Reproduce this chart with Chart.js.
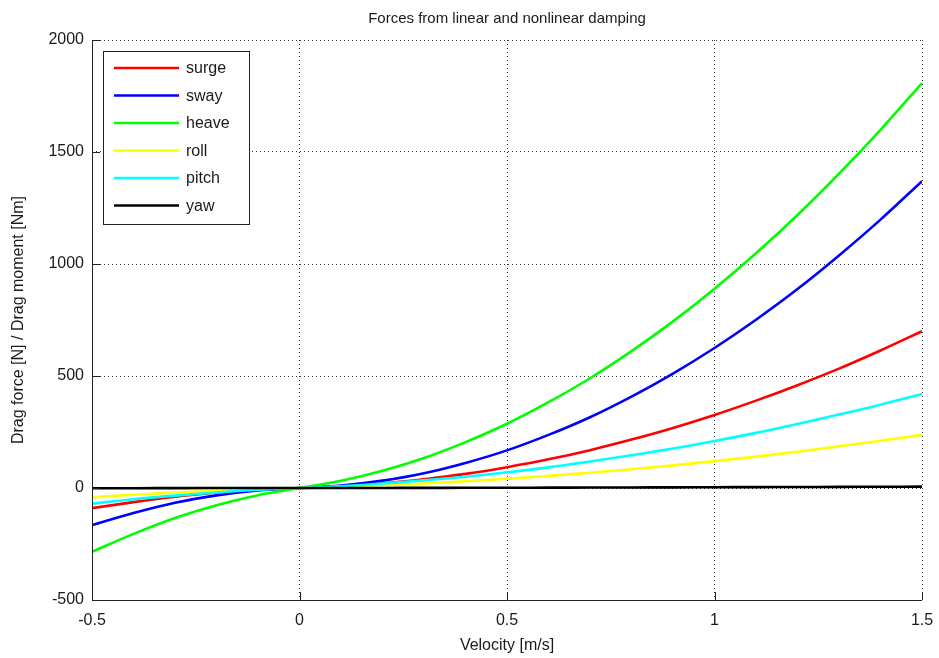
<!DOCTYPE html>
<html>
<head>
<meta charset="utf-8">
<script src="https://cdn.jsdelivr.net/npm/chart.js@4"></script>
<style>
  html, body { margin: 0; padding: 0; background: #fff; }
  #wrap { width: 939px; height: 658px; }
</style>
</head>
<body>
<div id="wrap"><canvas id="c" width="939" height="658"></canvas></div>
<script>
// ---- data ----
const velocity = [-0.5,-0.4,-0.3,-0.2,-0.1,0,0.1,0.2,0.3,0.4,0.5,0.6,0.7,0.8,0.9,1.0,1.1,1.2,1.3,1.4,1.5];
const surge = [-90,-63,-39,-20,-7,0,7,20,39,63,93,128,169,216,268,326,390,459,533,614,700];
const sway  = [-166,-112,-66,-33,-11,0,11,33,66,112,168,237,316,408,511,625,751,888,1038,1198,1370];
const heave = [-285,-205,-134,-77,-32,0,32,77,134,205,287,383,490,611,744,890,1048,1219,1403,1599,1808];
const roll  = [-41,-30,-20,-12,-5,0,5,12,20,30,41,54,68,84,101,120,140,162,186,211,237];
const pitch = [-70,-50,-34,-20,-8,0,8,20,34,50,70,92,118,146,176,210,246,286,328,372,420];
const yaw   = [-1,-1,-0.5,-0.3,-0.1,0,0.1,0.3,0.5,0.8,1,1.5,2,2.5,3,3.5,4,4.5,5,5.5,6];
const seriesNames = ['surge','sway','heave','roll','pitch','yaw'];
const seriesColors = ['#ff0000','#0000ff','#00ff00','#ffff00','#00ffff','#000000'];
const xTicks = [-0.5, 0, 0.5, 1, 1.5];
const yTicks = [-500, 0, 500, 1000, 1500, 2000];
const titleText = 'Forces from linear and nonlinear damping';
const xLabel = 'Velocity [m/s]';
const yLabel = 'Drag force [N] / Drag moment [Nm]';

const seriesValues = [surge, sway, heave, roll, pitch, yaw];
const datasets = seriesNames.map((n, i) => ({
  label: n,
  data: velocity.map((v, k) => ({x: v, y: seriesValues[i][k]})),
  borderColor: seriesColors[i],
  backgroundColor: seriesColors[i],
  borderWidth: 2.6,
  pointRadius: 0,
  cubicInterpolationMode: 'monotone',
  order: seriesNames.length - i
}));

const FONT = '"Liberation Sans", Arial, sans-serif';
const TXT = '#1a1a1a';

const decor = {
  id: 'decor',
  afterDraw(chart) {
    const ctx = chart.ctx;
    const a = chart.chartArea;
    const xs = chart.scales.x, ys = chart.scales.y;
    ctx.save();
    // solid left and bottom axis lines, inward tick marks
    ctx.strokeStyle = '#222';
    ctx.lineWidth = 1;
    ctx.beginPath();
    ctx.moveTo(a.left + 0.5, a.top); ctx.lineTo(a.left + 0.5, a.bottom + 0.5);
    ctx.lineTo(a.right, a.bottom + 0.5);
    xTicks.forEach(t => {
      const px = Math.round(xs.getPixelForValue(t)) + 0.5;
      ctx.moveTo(px, a.bottom); ctx.lineTo(px, a.bottom - 8);
    });
    yTicks.forEach(t => {
      const py = Math.round(ys.getPixelForValue(t)) + 0.5;
      ctx.moveTo(a.left, py); ctx.lineTo(a.left + 8, py);
    });
    ctx.stroke();
    // title
    ctx.fillStyle = TXT;
    ctx.font = '15px ' + FONT;
    ctx.textAlign = 'center';
    ctx.textBaseline = 'middle';
    ctx.fillText(titleText, (a.left + a.right) / 2, 19);
    // x label
    ctx.font = '16px ' + FONT;
    ctx.fillText(xLabel, (a.left + a.right) / 2, 646);
    // y label
    ctx.save();
    ctx.translate(19, (a.top + a.bottom) / 2);
    ctx.rotate(-Math.PI / 2);
    ctx.fillText(yLabel, 0, 0);
    ctx.restore();
    // legend box
    const lx = 103, ly = 51, lw = 146, lh = 173;
    ctx.fillStyle = '#fff';
    ctx.fillRect(lx, ly, lw, lh);
    ctx.strokeStyle = '#222';
    ctx.lineWidth = 1;
    ctx.strokeRect(lx + 0.5, ly + 0.5, lw, lh);
    ctx.textAlign = 'left';
    ctx.font = '16px ' + FONT;
    chart.data.datasets.forEach((ds, i) => {
      const y = 68 + i * 27.5;
      ctx.strokeStyle = ds.borderColor;
      ctx.lineWidth = 2.6;
      ctx.beginPath();
      ctx.moveTo(114, y); ctx.lineTo(179, y);
      ctx.stroke();
      ctx.fillStyle = TXT;
      ctx.fillText(ds.label, 186, y + 1);
    });
    ctx.restore();
  }
};

new Chart(document.getElementById('c'), {
  type: 'line',
  data: { datasets },
  options: {
    responsive: false,
    animation: false,
    layout: { padding: { top: 40, right: 17, left: 0, bottom: 0 } },
    plugins: { legend: { display: false }, tooltip: { enabled: false }, title: { display: false } },
    scales: {
      x: {
        type: 'linear',
        min: -0.5, max: 1.5,
        afterFit: s => { s.height = 58; s.paddingLeft = 0; s.paddingRight = 0; },
        afterBuildTicks: s => { s.ticks = xTicks.map(v => ({value: v})); },
        ticks: {
          font: { family: FONT, size: 16 }, color: TXT, padding: 11,
          maxRotation: 0, autoSkip: false,
          callback: v => String(v)
        },
        grid: { color: '#333', lineWidth: 1, drawTicks: false, tickLength: 0 },
        border: { display: false, dash: [1, 3] }
      },
      y: {
        type: 'linear',
        min: -500, max: 2000,
        afterFit: s => { s.width = 92; s.paddingTop = 0; s.paddingBottom = 0; },
        afterBuildTicks: s => { s.ticks = yTicks.map(v => ({value: v})); },
        ticks: {
          font: { family: FONT, size: 16 }, color: TXT, padding: 8,
          autoSkip: false,
          callback: v => String(v)
        },
        grid: { color: '#333', lineWidth: 1, drawTicks: false, tickLength: 0 },
        border: { display: false, dash: [1, 3] }
      }
    }
  },
  plugins: [decor]
});
</script>
</body>
</html>
